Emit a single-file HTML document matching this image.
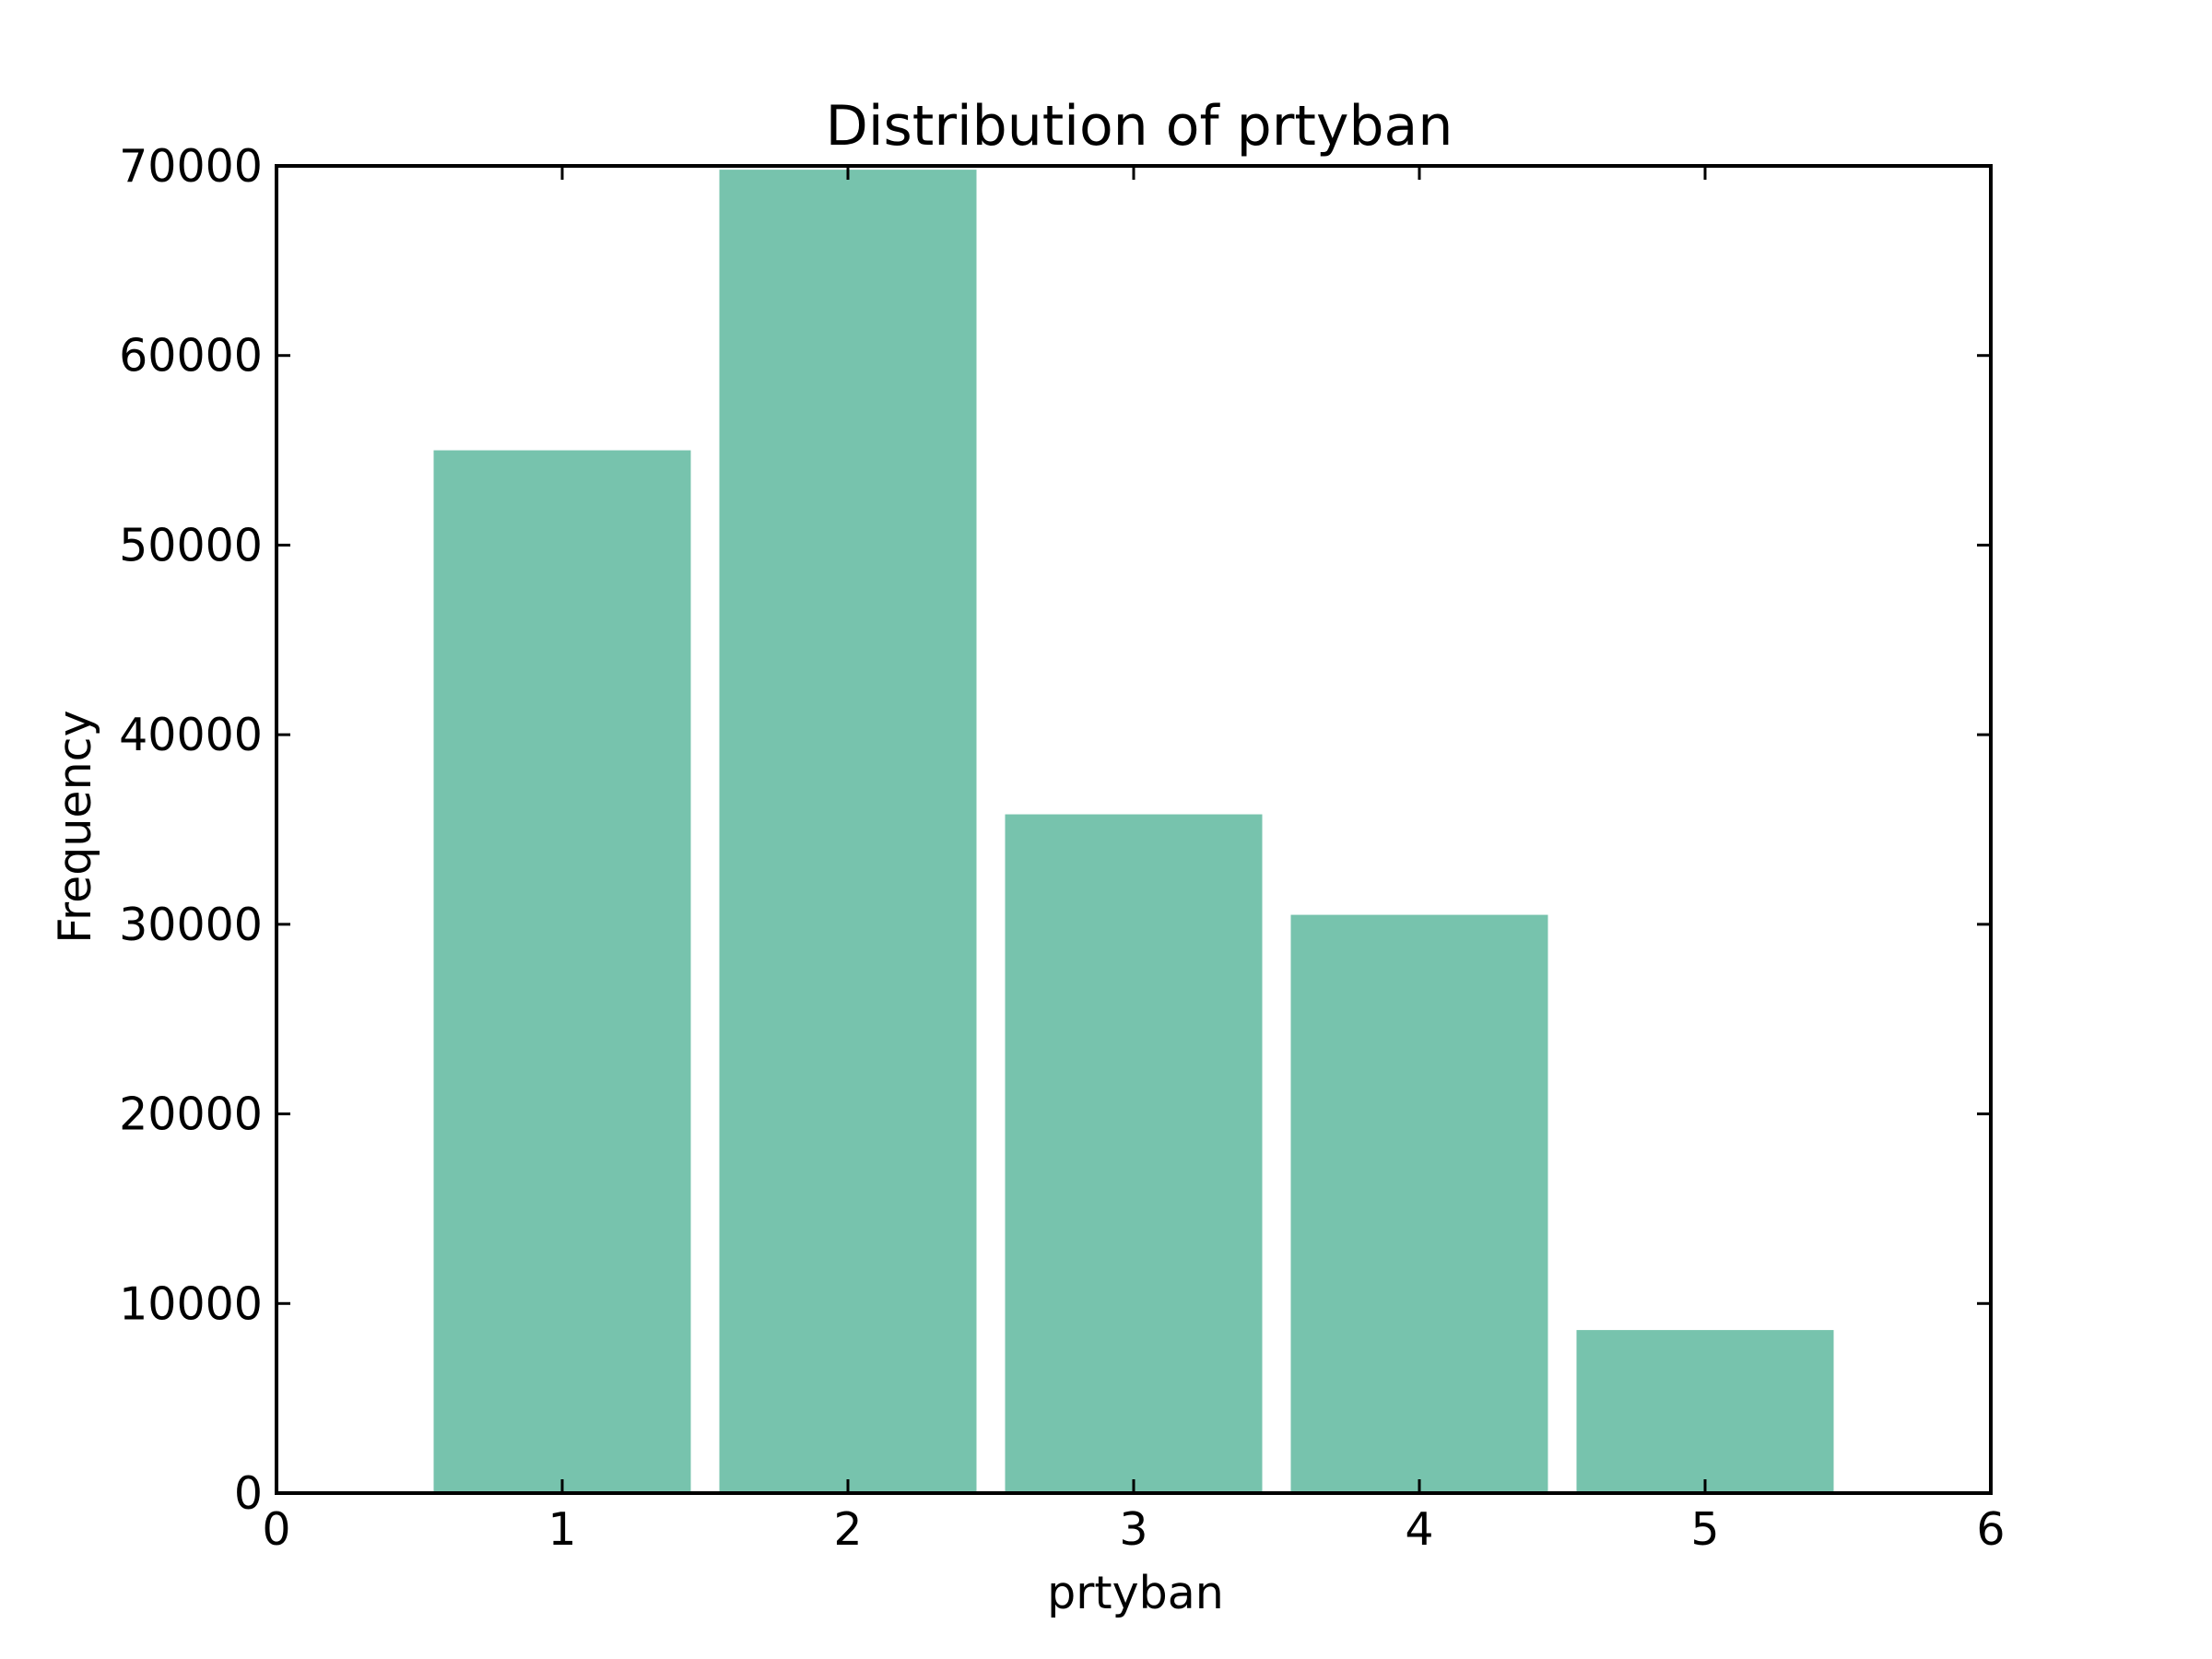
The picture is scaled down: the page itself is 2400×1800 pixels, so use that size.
<!DOCTYPE html>
<html><head><meta charset="utf-8"><style>
html,body{margin:0;padding:0;background:#fff;}
svg{display:block;}
text{font-family:"DejaVu Sans","Liberation Sans",sans-serif;fill:#000;}
</style></head><body>
<svg id="chart" width="2400" height="1800" viewBox="0 0 2400 1800" xmlns="http://www.w3.org/2000/svg">
<rect width="2400" height="1800" fill="#fff"/>
<g id="bars"></g>
<g id="axes"></g>
<text x="1236" y="157" font-size="60" text-anchor="middle">Distribution of prtyban</text>
<text x="1232" y="1745" font-size="49" text-anchor="middle">prtyban</text>
<text x="0" y="0" font-size="49" text-anchor="middle" transform="translate(98,897) rotate(-90)">Frequency</text>
</svg>
<script>
const categories = [1, 2, 3, 4, 5];
const frequencies = [55000, 69800, 35800, 30500, 8600];
const xTicks = [0, 1, 2, 3, 4, 5, 6];
const yTicks = [0, 10000, 20000, 30000, 40000, 50000, 60000, 70000];

const L = 300, R = 2160, T = 180, B = 1620;
const xMin = 0, xMax = 6, yMin = 0, yMax = 70000;
function xs(v){ return L + (v - xMin) / (xMax - xMin) * (R - L); }
function ys(v){ return B - (v - yMin) / (yMax - yMin) * (B - T); }
const NS = "http://www.w3.org/2000/svg";
function mk(tag, attrs){ const e = document.createElementNS(NS, tag); for (const k in attrs) e.setAttribute(k, attrs[k]); return e; }

const bars = document.getElementById('bars');
const barW = 0.9;
categories.forEach((c, i) => {
  const x0 = xs(c - barW/2), x1 = xs(c + barW/2), y0 = ys(frequencies[i]);
  const r = mk('rect', {x: x0, y: y0, width: x1 - x0, height: B - y0, fill: '#77c3ad'});
  
  
  bars.appendChild(r);
});

const axes = document.getElementById('axes');
xTicks.forEach(t => {
  const x = xs(t);
  const a = mk('line', {x1: x, x2: x, y1: B, y2: B - 15, stroke: '#000', 'stroke-width': 3});
  
  
  axes.appendChild(a);
  const b = mk('line', {x1: x, x2: x, y1: T, y2: T + 15, stroke: '#000', 'stroke-width': 3});
  
  
  axes.appendChild(b);
  const lab = mk('text', {x: x, y: 1676, 'font-size': 49, 'text-anchor': 'middle'});
  lab.textContent = String(t);
  
  
  axes.appendChild(lab);
});
yTicks.forEach(t => {
  const y = ys(t);
  const a = mk('line', {x1: L, x2: L + 15, y1: y, y2: y, stroke: '#000', 'stroke-width': 3});
  
  
  axes.appendChild(a);
  const b = mk('line', {x1: R, x2: R - 15, y1: y, y2: y, stroke: '#000', 'stroke-width': 3});
  
  
  axes.appendChild(b);
  const lab = mk('text', {x: 285, y: y + 17, 'font-size': 49, 'text-anchor': 'end'});
  lab.textContent = String(t);
  
  
  axes.appendChild(lab);
});
const frame = mk('rect', {x: L, y: T, width: R - L, height: B - T, fill: 'none', stroke: '#000', 'stroke-width': 4});


axes.appendChild(frame);
</script>
</body></html>
